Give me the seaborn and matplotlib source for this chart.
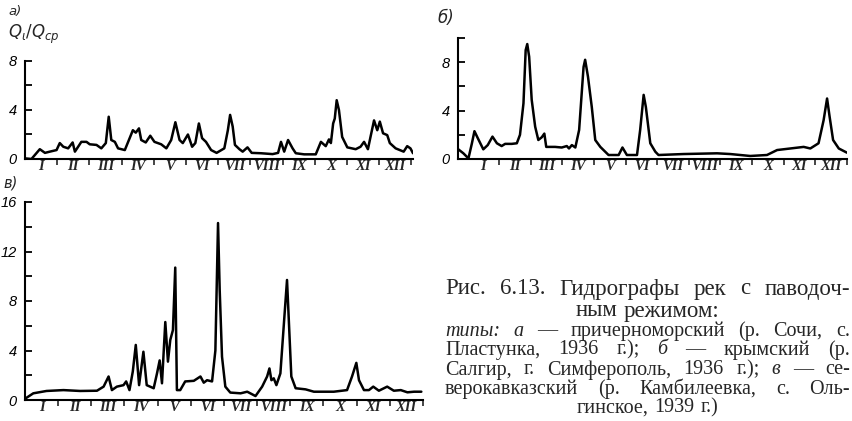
import matplotlib
matplotlib.use('Agg')
import matplotlib.pyplot as plt
import seaborn as sns

# Data (x in months from 1 Jan, y = Qi/Qcp)
month_a = [0.0, 0.2, 0.46, 0.62, 0.77, 0.98, 1.08, 1.19, 1.34, 1.48, 1.55, 1.75, 1.91, 2.01,
           2.22, 2.37, 2.51, 2.6, 2.68, 2.79, 2.89, 3.1, 3.25, 3.35, 3.44, 3.54, 3.61, 3.75,
           3.89, 4.02, 4.23, 4.39, 4.54, 4.67, 4.8, 4.9, 5.06, 5.19, 5.29, 5.4, 5.5, 5.62,
           5.78, 5.95, 6.19, 6.3, 6.37, 6.45, 6.52, 6.66, 6.76, 6.91, 7.04, 7.33, 7.69, 7.86,
           7.95, 8.05, 8.17, 8.31, 8.41, 8.67, 9.03, 9.19, 9.34, 9.44, 9.5, 9.57, 9.62, 9.68,
           9.75, 9.85, 10.01, 10.27, 10.42, 10.53, 10.65, 10.73, 10.84, 10.94, 11.02, 11.12,
           11.25, 11.33, 11.51, 11.76, 11.87, 11.97, 12.05]
q_a = [0.05, 0.0, 0.8, 0.5, 0.6, 0.73, 1.3, 1.0, 0.87, 1.35, 0.6, 1.4, 1.4, 1.2,
       1.15, 0.87, 1.3, 3.45, 1.55, 1.4, 0.87, 0.73, 1.7, 2.35, 2.15, 2.5, 1.55, 1.35,
       1.9, 1.4, 1.2, 0.87, 1.55, 3.0, 1.55, 1.3, 2.0, 1.0, 1.3, 2.9, 1.7, 1.4,
       0.73, 0.5, 0.87, 2.35, 3.6, 2.65, 1.15, 0.8, 0.6, 0.95, 0.5, 0.47, 0.4, 0.5,
       1.4, 0.6, 1.55, 0.87, 0.47, 0.38, 0.38, 1.4, 1.05, 1.6, 1.3, 2.9, 3.3, 4.8,
       4.0, 1.8, 0.95, 0.8, 1.0, 1.4, 0.8, 1.8, 3.15, 2.35, 3.05, 2.1,
       1.95, 1.3, 0.87, 0.6, 1.05, 0.87, 0.47]

month_b = [-0.29, -0.13, 0.03, 0.14, 0.22, 0.33, 0.5, 0.64, 0.79, 0.93, 1.08, 1.19, 1.4, 1.56,
           1.66, 1.77, 1.84, 1.89, 1.95, 2.03, 2.14, 2.24, 2.35, 2.43, 2.49, 2.77, 2.98, 3.14,
           3.21, 3.3, 3.41, 3.53, 3.67, 3.72, 3.81, 3.93, 4.04, 4.2, 4.46, 4.78, 4.9, 5.04,
           5.36, 5.46, 5.57, 5.64, 5.78, 5.94, 6.04, 6.83, 7.89, 8.31, 8.94, 9.47, 9.79, 10.21,
           10.63, 10.84, 11.1, 11.26, 11.37, 11.45, 11.56, 11.74, 12.0]
q_b = [0.8, 0.47, 0.05, 1.3, 2.3, 1.7, 0.8, 1.15, 1.85, 1.3, 1.07, 1.25, 1.25, 1.3,
       2.0, 4.6, 9.0, 9.5, 8.45, 4.9, 2.67, 1.57, 1.8, 2.1, 1.0, 1.0, 0.95, 1.07,
       0.87, 1.15, 0.95, 2.4, 7.6, 8.2, 6.8, 4.3, 1.57, 1.0, 0.33, 0.33, 0.95, 0.33,
       0.33, 2.4, 5.3, 4.3, 1.3, 0.6, 0.33, 0.41, 0.47, 0.41, 0.25, 0.33, 0.74, 0.87,
       1.0, 0.87, 1.3, 3.2, 5.0, 3.5, 1.57, 0.87, 0.52]

month_c = [0.0, 0.25, 0.65, 1.16, 1.66, 2.17, 2.37, 2.52, 2.62, 2.77, 2.97, 3.05, 3.15, 3.25,
           3.34, 3.44, 3.57, 3.67, 3.88, 3.98, 4.06, 4.13, 4.23, 4.31, 4.38, 4.46, 4.53, 4.58,
           4.68, 4.83, 5.09, 5.29, 5.39, 5.49, 5.64, 5.74, 5.82, 5.87, 5.94, 6.04, 6.19, 6.5,
           6.7, 6.95, 7.15, 7.3, 7.37, 7.43, 7.5, 7.58, 7.7, 7.82, 7.9, 7.95, 8.03, 8.16,
           8.46, 8.71, 9.31, 9.71, 9.86, 9.99, 10.07, 10.22, 10.37, 10.5, 10.67, 10.92, 11.12,
           11.33, 11.53, 11.73, 11.95]
q_c = [0.1, 0.54, 0.73, 0.8, 0.73, 0.75, 1.08, 1.9, 0.8, 1.08, 1.2, 1.5, 0.8, 2.3,
       4.45, 1.2, 3.9, 1.2, 0.95, 2.15, 3.2, 1.35, 6.3, 3.1, 4.85, 5.65, 10.7, 0.8,
       0.8, 1.5, 1.55, 1.9, 1.4, 1.6, 1.5, 4.0, 14.3, 8.9, 3.5, 1.08, 0.6, 0.54,
       0.67, 0.32, 1.08, 1.9, 2.55, 1.6, 1.75, 1.2, 2.15, 6.7, 9.7, 6.7, 1.9, 0.95,
       0.86, 0.67, 0.67, 0.8, 1.9, 3.0, 1.6, 0.8, 0.8, 1.08, 0.75, 1.08, 0.75,
       0.8, 0.62, 0.67, 0.67]

romans = ['I', 'II', 'III', 'IV', 'V', 'VI', 'VII', 'VIII', 'IX', 'X', 'XI', 'XII']

sns.set_style('ticks')
W, H = 853, 421
fig = plt.figure(figsize=(W / 100, H / 100), dpi=100)


def px_axes(x0, y_top, x1, y_bot):
    return fig.add_axes([x0 / W, 1 - y_bot / H, (x1 - x0) / W, (y_bot - y_top) / H])


def style_axis(ax, xlim, ytop, label_size):
    ax.set_xlim(*xlim)
    ax.set_ylim(0, ytop)
    for s in ['top', 'right']:
        ax.spines[s].set_visible(False)
    for s in ['left', 'bottom']:
        ax.spines[s].set_linewidth(1.5)
        ax.spines[s].set_color('black')
    yt = list(range(0, ytop + 1, 2))
    ax.set_yticks(yt, labels=[str(v) if v % 4 == 0 else '' for v in yt],
                  fontstyle='italic', family='Liberation Sans', fontsize=label_size)
    ax.tick_params(axis='y', direction='in', length=5, width=1.3, pad=6, colors='black')
    ax.set_xticks(range(1, 13), labels=[''] * 12)
    ax.tick_params(axis='x', which='major', direction='out', length=4, width=1.2)
    ax.set_xticks([m + 0.5 for m in range(12)], labels=romans, minor=True,
                  fontstyle='italic', family='Liberation Serif', fontsize=10.5, fontweight='bold')
    ax.tick_params(axis='x', which='minor', length=0, pad=1)
    ax.set_xlabel('')
    ax.set_ylabel('')


ax_a = px_axes(25, 61, 413, 159)
sns.lineplot(x=month_a, y=q_a, ax=ax_a, color='black', lw=1.8, sort=False, estimator=None)
style_axis(ax_a, (0, 12.05), 8, 10.5)

ax_b = px_axes(458, 38, 847, 159)
sns.lineplot(x=month_b, y=q_b, ax=ax_b, color='black', lw=1.8, sort=False, estimator=None)
style_axis(ax_b, (-0.3, 12.0), 10, 10.5)

ax_c = px_axes(25, 202, 423, 400)
sns.lineplot(x=month_c, y=q_c, ax=ax_c, color='black', lw=1.8, sort=False, estimator=None)
style_axis(ax_c, (0, 12.0), 16, 10.5)

# panel labels
fig.text(8 / W, 1 - 12 / H, 'a)', fontsize=9.5, fontstyle='italic', va='center')
fig.text(8 / W, 1 - 34 / H, r'$Q_\iota/Q_{ср}$', fontsize=12, va='center')
fig.text(437 / W, 1 - 18 / H, 'б)', fontsize=12, fontstyle='italic', va='center')
fig.text(3 / W, 1 - 183 / H, 'в)', fontsize=10.5, fontstyle='italic', va='center')

# caption
renderer = fig.canvas.get_renderer()
cap_x0, cap_x1 = 445 / W, 850 / W


def caption_line(words, y_px, size, justify=True):
    y = 1 - y_px / H
    texts = [fig.text(0, y, w, fontsize=size, fontstyle=st, family='Liberation Serif', va='center')
             for w, st in words]
    widths = [t.get_window_extent(renderer).width / W for t in texts]
    if justify:
        gap = (cap_x1 - cap_x0 - sum(widths)) / (len(texts) - 1)
        x = cap_x0
    else:
        gap = size * 0.3 / 72 * 100 / W
        total = sum(widths) + gap * (len(texts) - 1)
        x = (cap_x0 + cap_x1) / 2 - total / 2
    for t, w in zip(texts, widths):
        t.set_x(x)
        x += w + gap


n, i = 'normal', 'italic'
caption_line([(w, n) for w in 'Рис. 6.13. Гидрографы рек с паводоч-'.split()], 289, 16.5)
caption_line([(w, n) for w in 'ным режимом:'.split()], 311, 16.5, justify=False)
caption_line([('типы:', i), ('а', i), ('—', n), ('причерноморский', n), ('(р.', n),
              ('Сочи,', n), ('с.', n)], 331, 14.5)
caption_line([('Пластунка,', n), ('1936', n), ('г.);', n), ('б', i), ('—', n),
              ('крымский', n), ('(р.', n)], 350, 14.5)
caption_line([('Салгир,', n), ('г.', n), ('Симферополь,', n), ('1936', n), ('г.);', n),
              ('в', i), ('—', n), ('се-', n)], 370, 14.5)
caption_line([(w, n) for w in 'верокавказский (р. Камбилеевка, с. Оль-'.split()], 389, 14.5)
caption_line([(w, n) for w in 'гинское, 1939 г.)'.split()], 408, 14.5, justify=False)

fig.savefig('out.png', dpi=100)
